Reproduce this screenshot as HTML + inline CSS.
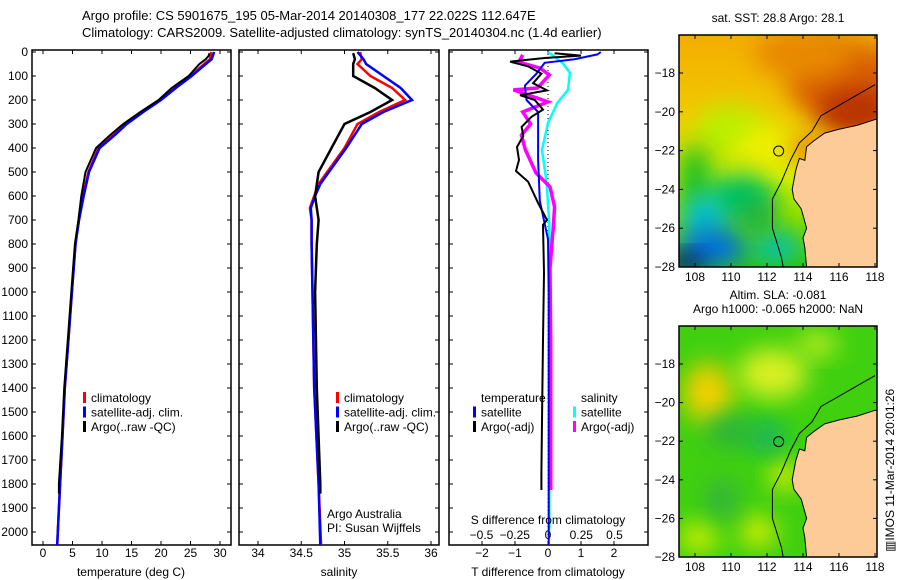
<!DOCTYPE html>
<html><head><meta charset="utf-8">
<style>
html,body{margin:0;padding:0;background:#fff;}
svg{display:block;font-family:"Liberation Sans",sans-serif;}
</style></head>
<body>
<svg id="fig" width="900" height="580" viewBox="0 0 900 580">
<defs>
<clipPath id="c1"><rect x="32" y="50" width="199" height="495"/></clipPath>
<clipPath id="c2"><rect x="239" y="50" width="200" height="495"/></clipPath>
<clipPath id="c3"><rect x="449" y="50" width="199" height="495"/></clipPath>
<clipPath id="m1"><rect x="679" y="35" width="198" height="232"/></clipPath>
<clipPath id="m2"><rect x="679" y="326" width="198" height="231"/></clipPath>
<filter id="bl" x="-50%" y="-50%" width="200%" height="200%"><feGaussianBlur stdDeviation="12"/></filter>
<linearGradient id="sstg" x1="0" y1="0" x2="0" y2="1">
<stop offset="0" stop-color="#f5a800"/><stop offset="0.35" stop-color="#f0c800"/><stop offset="0.6" stop-color="#d8f000"/><stop offset="1" stop-color="#10c000"/>
</linearGradient>
</defs>
<g id="texts" font-size="13" fill="#000">
<text x="82" y="20">Argo profile: CS 5901675_195 05-Mar-2014 20140308_177 22.022S 112.647E</text>
<text x="82" y="37">Climatology: CARS2009. Satellite-adjusted climatology: synTS_20140304.nc (1.4d earlier)</text>
</g>
<g id="p1"></g>
<g id="p2"></g>
<g id="p3"></g>
<g id="map1"></g>
<g id="map2"></g>
<text x="0" y="0" font-size="12" transform="translate(894,552) rotate(-90)">▥IMOS 11-Mar-2014 20:01:26</text>
</svg>
<script>
// ---- data ----
const depthTicks=[0,100,200,300,400,500,600,700,800,900,1000,1100,1200,1300,1400,1500,1600,1700,1800,1900,2000];
const tTicks=[0,5,10,15,20,25,30];
const sTicks=[34,34.5,35,35.5,36];
const dTTicks=[-2,-1,0,1,2];
const dSTicks=[-0.5,-0.25,0,0.25,0.5];
const tClimDepth=[0,30,50,100,150,200,250,300,350,400,500,600,700,800,1000,1200,1400,1600,1800,2000,2055];
const tClim=[28.5,28.3,27.3,25,22.3,19.8,16.8,14,11.8,9.4,7.7,6.8,6.1,5.5,4.9,4.3,3.7,3.3,2.9,2.5,2.4];
const tSat=[29,28.6,27.6,25.2,22.5,20,17,14.2,12,9.6,7.8,6.9,6.1,5.5,4.9,4.3,3.7,3.3,2.9,2.5,2.4];
const tArgoDepth=[5,15,30,50,100,150,200,250,300,350,400,500,600,700,800,1000,1200,1400,1600,1800,1840];
const tArgo=[28.2,28.1,27.6,26.5,24.7,21.8,19.6,16.5,13.6,11.2,9.0,7.2,6.5,6.0,5.4,4.8,4.2,3.6,3.2,2.7,2.7];
const sDepth=[0,30,50,100,150,200,250,300,400,500,550,600,650,700,800,1000,1400,1800,2055];
const sClim=[35.18,35.2,35.15,35.3,35.55,35.7,35.4,35.15,35.0,34.8,34.7,34.65,34.6,34.62,34.62,34.63,34.65,34.7,34.73];
const sSat=[35.15,35.22,35.25,35.45,35.65,35.78,35.45,35.2,35.02,34.82,34.72,34.66,34.61,34.62,34.62,34.63,34.65,34.7,34.72];
const sArgoDepth=[5,30,50,100,150,200,250,300,400,500,600,650,700,800,1000,1400,1800,1840];
const sArgo=[35.1,35.12,35.1,35.1,35.35,35.55,35.3,35.0,34.85,34.7,34.66,34.68,34.7,34.68,34.66,34.68,34.72,34.72];
const dTSatDepth=[0,10,30,45,90,140,200,250,300,450,620,780,1000,2055];
const dTSat=[1.6,1.5,0.8,-0.1,-0.35,-0.7,-0.65,-0.3,-0.3,-0.3,-0.25,0,0.02,0.02];
const dTArgoDepth=[5,15,25,40,60,90,130,160,180,200,240,270,312,350,396,450,496,541,629,700,720,920,1200,1500,1750,1825];
const dTArgo=[0.2,1.0,-0.1,-1.15,-0.6,-0.2,-0.45,-0.03,-0.85,-0.4,-0.15,-0.5,-0.8,-0.75,-0.94,-0.88,-0.97,-0.6,-0.3,-0.03,-0.15,-0.12,-0.15,-0.18,-0.2,-0.2];
const dSSatDepth=[0,20,46,87,158,212,296,408,546,720,1000,1500,1990];
const dSSat=[0,0.05,0.11,0.165,0.15,0.07,0,-0.045,-0.01,0.01,0.01,0.01,0.01];
const dSArgoDepth=[12,42,67,96,150,158,208,250,300,346,408,504,562,646,729,900,1200,1500,1825];
const dSArgo=[-0.19,-0.22,-0.06,0.01,-0.08,-0.26,0,-0.19,-0.13,-0.2,-0.17,-0.09,0.015,0.05,0.04,0.015,0.02,0.02,0.02];
// map data
const lonTicks=[108,110,112,114,116,118];
const latTicks=[-18,-20,-22,-24,-26,-28];
const argoPos=[112.647,-22.022];
const coastLon=[118,117,116.5,116,115.2,114.6,114.2,114.1,113.8,113.6,113.4,113.5,113.9,114.2,114.0,114.1,114.2];
const coastLat=[-20.4,-20.7,-20.8,-20.9,-21.1,-21.5,-21.8,-22.5,-22.4,-23.0,-24.0,-24.5,-25.0,-26.0,-26.5,-27.0,-28];
const shelfLon=[118,116.5,115,114.5,113.8,113.3,112.8,112.3,112.3,112.8,112.9];
const shelfLat=[-18.6,-19.4,-20.2,-21.0,-21.6,-22.5,-23.6,-24.5,-26,-27.5,-28];

const NS='http://www.w3.org/2000/svg';
function mk(tag,attrs,parent){const e=document.createElementNS(NS,tag);for(const k in attrs)e.setAttribute(k,attrs[k]);parent.appendChild(e);return e;}
const Y=d=>52+0.24*d;
const TOPY=50,BOTY=545;

function panel(g,x0,x1,xs,ticks,fmt,labelY){
  const r=mk('rect',{x:x0,y:TOPY,width:x1-x0,height:BOTY-TOPY,fill:'none',stroke:'#000','stroke-width':1.5},g);
  
  
  depthTicks.forEach(d=>{mk('line',{x1:x0,x2:x0+4,y1:Y(d),y2:Y(d),stroke:'#000'},g);mk('line',{x1:x1-4,x2:x1,y1:Y(d),y2:Y(d),stroke:'#000'},g);});
  ticks.forEach(v=>{const x=xs(v);mk('line',{x1:x,x2:x,y1:BOTY,y2:BOTY-4,stroke:'#000'},g);mk('line',{x1:x,x2:x,y1:TOPY,y2:TOPY+4,stroke:'#000'},g);
    if(labelY){const t=mk('text',{x:x,y:labelY,'text-anchor':'middle','font-size':12},g);t.textContent=fmt(v);
    
    }});
}
function line(g,xs,vals,depths,color,w,clip){
  const p=mk('polyline',{points:vals.map((v,i)=>xs(v).toFixed(1)+','+Y(depths[i]).toFixed(1)).join(' '),fill:'none',stroke:color,'stroke-width':w,'clip-path':clip},g);
  
  
  return p;
}
function txt(g,x,y,s,name,anchor,size){const t=mk('text',{x:x,y:y,'font-size':size||12,'text-anchor':anchor||'start'},g);t.textContent=s;
  
  return t;}
function legend(g,x,y,items){items.forEach((it,i)=>{const yy=y+i*14.5;mk('rect',{x:x,y:yy-10,width:3,height:11,fill:it[1]},g);
  txt(g,x+8,yy,it[0],'legend-entry');});}

// panel 1
const p1=document.getElementById('p1');
const xT=v=>43+5.9*v;
panel(p1,32,231,xT,tTicks,v=>String(v),557);
depthTicks.forEach(d=>txt(p1,28,Y(d)+4,String(d),'y-tick-label','end'));
line(p1,xT,tClim,tClimDepth,'#f00',2.5,'url(#c1)');
line(p1,xT,tSat,tClimDepth,'#00f',2.5,'url(#c1)');
line(p1,xT,tArgo,tArgoDepth,'#000',2,'url(#c1)');
legend(p1,83,402,[['climatology','#f00'],['satellite-adj. clim.','#00f'],['Argo(..raw -QC)','#000']]);
txt(p1,131,576,'temperature (deg C)','x-axis-title','middle');

// panel 2
const p2=document.getElementById('p2');
const xS=v=>258+86.5*(v-34);
panel(p2,239,439,xS,sTicks,v=>String(v),557);
line(p2,xS,sClim,sDepth,'#f00',2.5,'url(#c2)');
line(p2,xS,sSat,sDepth,'#00f',2.5,'url(#c2)');
line(p2,xS,sArgo,sArgoDepth,'#000',2.5,'url(#c2)');
legend(p2,336,402,[['climatology','#f00'],['satellite-adj. clim.','#00f'],['Argo(..raw -QC)','#000']]);
txt(p2,327,518,'Argo Australia','credit-line');
txt(p2,327,532,'PI: Susan Wijffels','pi-line');
txt(p2,339,576,'salinity','x-axis-title','middle');

// panel 3
const p3=document.getElementById('p3');
const xDT=v=>548+33*v;
const xDS=v=>548+133*v;
panel(p3,449,648,xDT,dTTicks,v=>String(v).replace('-','−'),557);
dSTicks.forEach(v=>{txt(p3,xDS(v),539,String(v).replace('-','−'),'s-tick-label','middle');});
mk('line',{x1:548,x2:548,y1:TOPY,y2:BOTY,stroke:'#000','stroke-dasharray':'1,3'},p3);
line(p3,xDS,dSSat,dSSatDepth,'#0ff',2.5,'url(#c3)');
line(p3,xDS,dSArgo,dSArgoDepth,'#f0f',3.5,'url(#c3)');
line(p3,xDT,dTSat,dTSatDepth,'#00f',2,'url(#c3)');
line(p3,xDT,dTArgo,dTArgoDepth,'#000',2,'url(#c3)');
txt(p3,481,402,'temperature','legend-title');
txt(p3,581,402,'salinity','legend-title');
legend(p3,473,416.5,[['satellite','#00f'],['Argo(-adj)','#000']]);
legend(p3,573,416.5,[['satellite','#0ff'],['Argo(-adj)','#f0f']]);
txt(p3,548,524,'S difference from climatology','s-axis-title','middle');
txt(p3,548,576,'T difference from climatology','t-axis-title','middle');

// maps
function map(gid,y0,h,clip,fillFn,title){
  const g=document.getElementById(gid);
  const lx=v=>695+18*(v-108);
  const LY=v=>{const y18=y0+38; return y18+(h-38)/10*(-18-v);};
  const inner=mk('g',{'clip-path':clip},g);
  fillFn(inner,lx,LY);
  const land=mk('polygon',{points:coastLon.map((v,i)=>lx(v)+','+LY(coastLat[i])).join(' ')+' '+lx(118.5)+','+LY(-28.5)+' '+lx(118.5)+','+LY(-20.4),fill:'#fccb98',stroke:'#000','stroke-width':1},inner);
  
  
  mk('polyline',{points:shelfLon.map((v,i)=>lx(v)+','+LY(shelfLat[i])).join(' '),fill:'none',stroke:'#000','stroke-width':1},inner);
  const c=mk('circle',{cx:lx(argoPos[0]),cy:LY(argoPos[1]),r:5,fill:'none',stroke:'#000','stroke-width':1},g);
  
  
  mk('rect',{x:679,y:y0,width:198,height:h,fill:'none',stroke:'#000','stroke-width':1.5},g);
  lonTicks.forEach(v=>{mk('line',{x1:lx(v),x2:lx(v),y1:y0+h,y2:y0+h-4,stroke:'#000'},g);mk('line',{x1:lx(v),x2:lx(v),y1:y0,y2:y0+4,stroke:'#000'},g);txt(g,lx(v),y0+h+14,String(v),'lon-tick-label','middle');});
  latTicks.forEach(v=>{mk('line',{x1:679,x2:683,y1:LY(v),y2:LY(v),stroke:'#000'},g);mk('line',{x1:873,x2:877,y1:LY(v),y2:LY(v),stroke:'#000'},g);txt(g,675,LY(v)+4,String(v).replace('-','−'),'lat-tick-label','end');});
  title.forEach((s,i)=>txt(g,778,y0-13-(title.length-1-i)*14,s,'map-title','middle'));
}
map('map1',35,232,'url(#m1)',(g,lx,ly)=>{
  mk('rect',{x:660,y:20,width:240,height:260,fill:'url(#sstg)'},g);
  const blobs=[[116.5,-18.5,60,40,'#d86000'],[117,-20,40,25,'#b83000'],[114,-17,50,25,'#e88800'],[110,-21,35,25,'#b8f000'],[111.8,-21.8,25,20,'#f0f000'],[108,-23.5,18,35,'#20c020'],[110.5,-24.5,35,25,'#00c060'],[108.5,-25.5,22,25,'#00c0d0'],[109,-27,35,20,'#0070e0'],[107.5,-27.8,20,10,'#000080'],[112.5,-27,25,15,'#00c0c0'],[111.5,-25.5,18,18,'#20b040'],[114.5,-22,20,15,'#f08000']];
  blobs.forEach(b=>mk('ellipse',{cx:lx(b[0]),cy:ly(b[1]),rx:b[2],ry:b[3],fill:b[4],filter:'url(#bl)'},g));
},['sat. SST: 28.8 Argo: 28.1']);
map('map2',326,231,'url(#m2)',(g,lx,ly)=>{
  mk('rect',{x:660,y:310,width:240,height:260,fill:'#40d010'},g);
  const blobs=[[108.7,-19.5,25,30,'#f0d000'],[112.3,-18.5,35,25,'#d8f020'],[114.8,-17,20,12,'#c8f020'],[113,-23.8,15,15,'#e0f000'],[111.5,-26.7,18,15,'#e0f000'],[108.2,-27,20,15,'#d0f000'],[112,-21.8,18,15,'#10b070'],[110,-21.5,25,15,'#28b040'],[109.5,-25,15,20,'#30b040']];
  blobs.forEach(b=>mk('ellipse',{cx:lx(b[0]),cy:ly(b[1]),rx:b[2],ry:b[3],fill:b[4],filter:'url(#bl)'},g));
},['Altim. SLA: -0.081','Argo h1000: -0.065 h2000: NaN']);
</script>
</body></html>
